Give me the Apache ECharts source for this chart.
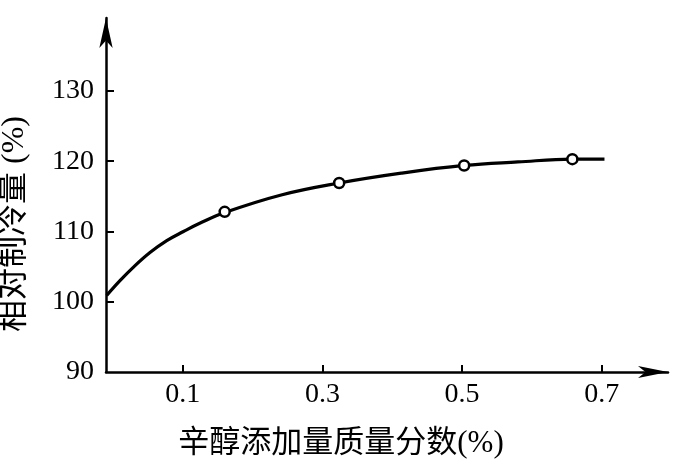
<!DOCTYPE html>
<html>
<head>
<meta charset="utf-8">
<script src="https://cdn.jsdelivr.net/npm/echarts@6/dist/echarts.min.js"></script>
<style>
html,body{margin:0;padding:0;background:#fff;}
#c{width:684px;height:460px;}
</style>
</head>
<body>
<div id="c"></div>
<script>
// Axis labels
var xTitle = '辛醇添加量质量分数(%)';
var yTitle = '相对制冷量 (%)';
// Tick labels
var xTicks = [0.1, 0.3, 0.5, 0.7];
var yTicks = [90, 100, 110, 120, 130];
// Fitted curve
var curveX = [-0.009, 0.010, 0.029, 0.053, 0.077, 0.101, 0.125, 0.160, 0.241, 0.324, 0.413, 0.503, 0.580, 0.658, 0.704];
var curveY = [100.9, 103.0, 104.9, 107.0, 108.7, 110.0, 111.2, 112.7, 115.2, 116.9, 118.3, 119.4, 119.9, 120.3, 120.3];
// Measured points
var ptX = [0.160, 0.324, 0.503, 0.658];
var ptY = [112.8, 116.9, 119.4, 120.3];

var serif = "'Liberation Serif', 'Noto Sans CJK SC', serif";
var chart = echarts.init(document.getElementById('c'), null, {renderer: 'canvas'});
chart.setOption({
  animation: false,
  backgroundColor: '#fff',
  grid: {left: 106, right: 16, top: 18, bottom: 88},
  xAxis: {
    type: 'value', min: -0.01, max: 0.795,
    axisLine: {onZero: false, lineStyle: {color: '#000', width: 2.5}, symbol: ['none', 'arrow'], symbolSize: [9, 30]},
    axisTick: {inside: true, length: 7, lineStyle: {color: '#000', width: 2}, customValues: xTicks},
    axisLabel: {customValues: xTicks, color: '#000', fontFamily: serif, fontSize: 28, margin: 9,
      formatter: function (v) { return Number(v).toFixed(1); }},
    splitLine: {show: false}
  },
  yAxis: {
    type: 'value', min: 90, max: 140.39,
    axisLine: {onZero: false, lineStyle: {color: '#000', width: 2.5}, symbol: ['none', 'arrow'], symbolSize: [10, 30]},
    axisTick: {inside: true, length: 8, lineStyle: {color: '#000', width: 2}, customValues: yTicks.slice(1)},
    axisLabel: {customValues: yTicks, color: '#000', fontFamily: serif, fontSize: 28, margin: 12},
    splitLine: {show: false}
  },
  graphic: [
    {type: 'text', x: 341, y: 444, style: {text: xTitle, font: '31px ' + serif, fill: '#000', textAlign: 'center', textVerticalAlign: 'middle'}},
    {type: 'text', x: 15, y: 224, rotation: Math.PI / 2, style: {text: yTitle, font: '32px ' + serif, fill: '#000', textAlign: 'center', textVerticalAlign: 'middle'}}
  ],
  series: [
    {type: 'line', data: curveX.map(function (x, i) { return [x, curveY[i]]; }),
      smooth: 0.4, showSymbol: false, lineStyle: {color: '#000', width: 3.2}, z: 2},
    {type: 'scatter', data: ptX.map(function (x, i) { return [x, ptY[i]]; }),
      symbol: 'circle', symbolSize: 10, itemStyle: {color: '#fff', borderColor: '#000', borderWidth: 2.5, opacity: 1}, z: 3}
  ]
});
</script>
</body>
</html>
